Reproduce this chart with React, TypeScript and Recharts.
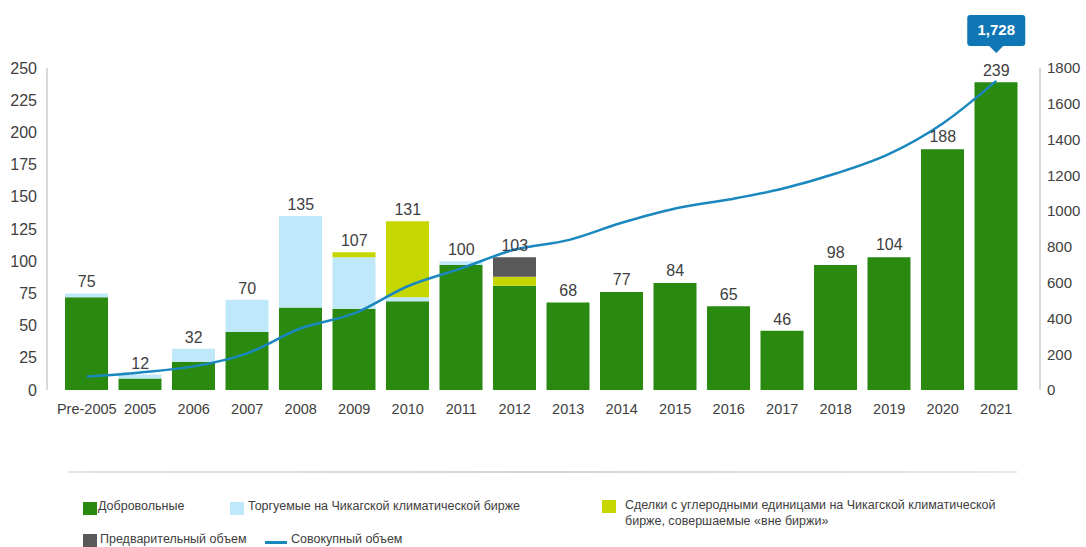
import React from "react";
import { ComposedChart, Bar, Line, XAxis, YAxis, LabelList } from "recharts";

const categories = ["Pre-2005", "2005", "2006", "2007", "2008", "2009", "2010", "2011", "2012", "2013", "2014", "2015", "2016", "2017", "2018", "2019", "2020", "2021"];
const voluntary = [72, 9, 22, 45, 64, 63, 69, 97, 81, 68, 76, 83, 65, 46, 97, 103, 187, 239];
const cctTraded = [3, 3, 10, 25, 71, 40, 3, 3, 0, 0, 0, 0, 0, 0, 0, 0, 0, 0];
const cctOtc = [0, 0, 0, 0, 0, 4, 59, 0, 7, 0, 0, 0, 0, 0, 0, 0, 0, 0];
const preliminary = [0, 0, 0, 0, 0, 0, 0, 0, 15, 0, 0, 0, 0, 0, 0, 0, 0, 0];
const totalLabels = [75, 12, 32, 70, 135, 107, 131, 100, 103, 68, 77, 84, 65, 46, 98, 104, 188, 239];
const cumulative = [75, 98, 132, 205, 345, 428, 580, 680, 785, 838, 935, 1015, 1065, 1125, 1210, 1320, 1490, 1728];
const leftTicks = [0, 25, 50, 75, 100, 125, 150, 175, 200, 225, 250];
const rightTicks = [0, 200, 400, 600, 800, 1000, 1200, 1400, 1600, 1800];

const data = categories.map((c, i) => ({
  cat: c,
  voluntary: voluntary[i],
  cctTraded: cctTraded[i],
  cctOtc: cctOtc[i],
  preliminary: preliminary[i],
  total: totalLabels[i],
  cumulative: cumulative[i],
}));

const GREEN = "#2a8a10";
const LIGHTBLUE = "#bfe9fb";
const YELLOW = "#c6d600";
const GRAY = "#595959";
const LINE = "#1a87bf";
const CALLOUT = "#0f76b6";
const TEXT = "#404040";
const FONT = "'Liberation Sans', Arial, sans-serif";

const Callout = (props: any) => {
  const { x, y, index, value } = props;
  if (index !== categories.length - 1) return null;
  const w = 58;
  const h = 31;
  const bottom = y - 35;
  const top = bottom - h;
  return (
    <g>
      <rect x={x - w / 2} y={top} width={w} height={h} rx={3} fill={CALLOUT} />
      <polygon points={`${x - 8},${bottom - 1} ${x + 8},${bottom - 1} ${x},${bottom + 7}`} fill={CALLOUT} />
      <text x={x} y={top + h / 2 + 5} textAnchor="middle" fill="#ffffff" fontWeight="bold" fontSize={15} fontFamily={FONT}>
        {Number(value).toLocaleString("en-US")}
      </text>
    </g>
  );
};

const legendText: React.CSSProperties = {
  position: "absolute",
  fontSize: 12.5,
  color: TEXT,
  fontFamily: FONT,
  lineHeight: "16px",
  whiteSpace: "nowrap",
};

const Swatch = ({ left, top, color }: { left: number; top: number; color: string }) => (
  <div style={{ position: "absolute", left, top, width: 14, height: 13, background: color }} />
);

export default function App() {
  return (
    <div style={{ position: "absolute", left: 0, top: 0, width: 1086, height: 547, background: "#fff", overflow: "hidden" }}>
      <ComposedChart
        width={1086}
        height={460}
        data={data}
        margin={{ top: 68, right: 0, bottom: 40, left: 0 }}
        style={{ fontFamily: FONT }}
      >
        <XAxis
          dataKey="cat"
          axisLine={false}
          tickLine={false}
          tickMargin={8}
          height={30}
          interval={0}
          padding={{ left: 13, right: 17 }}
          tick={{ fill: TEXT, fontSize: 14.5, fontFamily: FONT }}
        />
        <YAxis
          yAxisId="left"
          orientation="left"
          width={47}
          domain={[0, 250]}
          ticks={leftTicks}
          interval={0}
          axisLine={{ stroke: "#d9d9d9", strokeWidth: 2 }}
          tickLine={false}
          tickSize={0}
          tickMargin={10}
          tick={{ fill: TEXT, fontSize: 16, fontFamily: FONT }}
        />
        <YAxis
          yAxisId="right"
          orientation="right"
          width={46}
          domain={[0, 1800]}
          ticks={rightTicks}
          interval={0}
          axisLine={{ stroke: "#d9d9d9", strokeWidth: 2 }}
          tickLine={false}
          tickSize={0}
          tickMargin={7}
          tick={{ fill: TEXT, fontSize: 15, fontFamily: FONT }}
        />
        <Bar yAxisId="left" dataKey="voluntary" stackId="a" fill={GREEN} barSize={43} isAnimationActive={false} />
        <Bar yAxisId="left" dataKey="cctTraded" stackId="a" fill={LIGHTBLUE} barSize={43} isAnimationActive={false} />
        <Bar yAxisId="left" dataKey="cctOtc" stackId="a" fill={YELLOW} barSize={43} isAnimationActive={false} />
        <Bar yAxisId="left" dataKey="preliminary" stackId="a" fill={GRAY} barSize={43} isAnimationActive={false} />
        <Line
          yAxisId="left"
          dataKey="total"
          stroke="none"
          dot={false}
          activeDot={false}
          legendType="none"
          isAnimationActive={false}
        >
          <LabelList dataKey="total" position="top" offset={6} fill={TEXT} fontSize={16} fontFamily={FONT} />
        </Line>
        <Line
          yAxisId="right"
          type="monotone"
          dataKey="cumulative"
          stroke={LINE}
          strokeWidth={2.5}
          dot={false}
          activeDot={false}
          isAnimationActive={false}
        >
          <LabelList dataKey="cumulative" content={Callout} />
        </Line>
      </ComposedChart>

      <div style={{ position: "absolute", left: 68, top: 471, width: 949, height: 2, background: "linear-gradient(to right, #e4e4e4, #d4d4d4 50%, #e8e8e8)" }} />

      <Swatch left={83} top={502} color={GREEN} />
      <div style={{ ...legendText, left: 98, top: 498 }}>Добровольные</div>

      <Swatch left={230} top={502} color={LIGHTBLUE} />
      <div style={{ ...legendText, left: 248, top: 498 }}>Торгуемые на Чикагской климатической бирже</div>

      <Swatch left={602} top={500} color={YELLOW} />
      <div style={{ ...legendText, left: 625, top: 497 }}>
        Сделки с углеродными единицами на Чикагской климатической
        <br />
        бирже, совершаемые «вне биржи»
      </div>

      <Swatch left={83} top={534} color={GRAY} />
      <div style={{ ...legendText, left: 100, top: 532, lineHeight: "14px" }}>Предварительный объем</div>

      <div style={{ position: "absolute", left: 265, top: 541, width: 22, height: 3, background: LINE }} />
      <div style={{ ...legendText, left: 291, top: 532, lineHeight: "14px" }}>Совокупный объем</div>
    </div>
  );
}
